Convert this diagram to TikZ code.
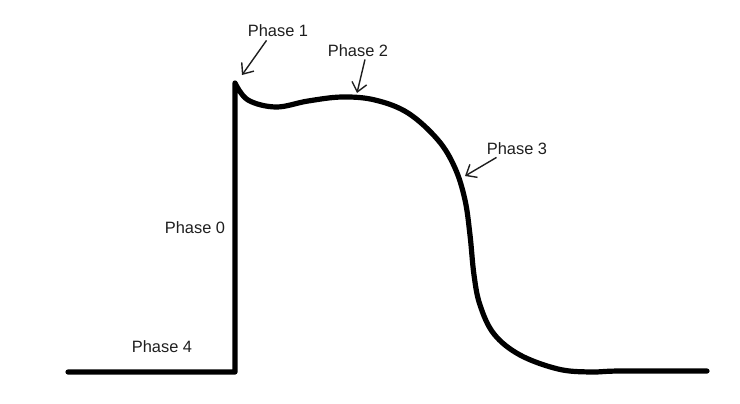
\documentclass[tikz,border=0pt]{standalone}
\usepackage{fontspec}
\setmainfont{Liberation Sans}
\usetikzlibrary{arrows.meta}
\definecolor{apline}{HTML}{000000}
\definecolor{aptext}{HTML}{1E1E1E}

\begin{document}
\begin{tikzpicture}[x=0.5pt, y=-0.5pt,
    trace/.style={line width=2.6pt, color=apline, line cap=round, line join=round},
    phase/.style={font=\fontsize{8.2}{10}\selectfont, color=aptext, inner sep=0pt},
    pointer/.style={-{Straight Barb[length=4.5pt, width=7.5pt]}, line width=0.7pt, color=aptext}
]
\useasboundingbox (0,0) rectangle (740,403);

% action potential trace
\draw[trace] (68,372) -- (235,372) -- (235,83)
    plot[smooth, tension=0.6] coordinates {(235,83) (248,100) (276,107)
        (308,101) (342,97) (375,100) (408,113) (438,140) (455,168) (465,200)
        (470,235) (474,275) (480,305) (494,334) (520,355) (558,369) (590,372)
        (620,371) (707,371)};

% points on the trace
\coordinate (p1) at (242,75);
\coordinate (p2) at (357,93);
\coordinate (p3) at (465,176);

\node[phase] (ph0) at (195,228) {Phase 0};
\node[phase] (ph1) at (278,31)  {Phase 1};
\node[phase] (ph2) at (358,51)  {Phase 2};
\node[phase] (ph3) at (517,149) {Phase 3};
\node[phase] (ph4) at (162,347) {Phase 4};

\draw[pointer] (ph1.south west) ++(19,3) coordinate (a1) (a1) -- (p1);
\draw[pointer] (ph2.south) ++(7,2) coordinate (a2) (a2) -- (p2);
\draw[pointer] (ph3.south west) ++(10,2) coordinate (a3) (a3) -- (p3);
\end{tikzpicture}
\end{document}
